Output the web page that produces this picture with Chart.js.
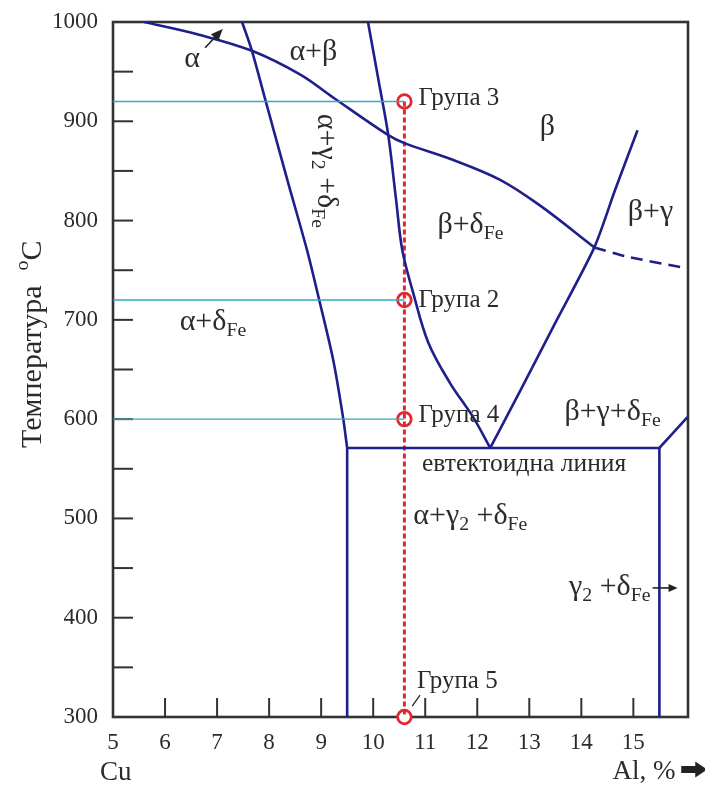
<!DOCTYPE html>
<html><head><meta charset="utf-8">
<script src="https://cdn.jsdelivr.net/npm/chart.js@4.4.1/dist/chart.umd.min.js"></script>
<style>html,body{margin:0;padding:0;background:#fff}#wrap{width:705px;height:785px}</style>
</head><body><div id="wrap"><canvas id="c" width="705" height="785"></canvas></div>
<script>
// ---------- data ----------
const xTicks = [5, 6, 7, 8, 9, 10, 11, 12, 13, 14, 15];
const xTickLabels = ['5', '6', '7', '8', '9', '10', '11', '12', '13', '14', '15'];
const yTicks = [300, 400, 500, 600, 700, 800, 900, 1000];
const yMinorTicks = [350, 450, 550, 650, 750, 850, 950];

// alpha / alpha+beta / beta boundary (solid) and its dashed continuation
const betaUpperAl = [5.6, 6.67, 7.67, 8.6, 9.23, 10.29, 10.6, 11.54, 12.44, 13.21, 14.25];
const betaUpperT  = [1000, 987, 971, 947, 924, 886, 878, 861, 841, 815, 773];
const betaDashAl  = [14.25, 14.85, 16.02];
const betaDashT   = [773, 764, 752];
// alpha+deltaFe / alpha+gamma2+deltaFe boundary
const alphaLimitAl = [7.48, 7.67, 7.92, 8.35, 8.73, 8.94, 9.23, 9.42, 9.5];
const alphaLimitT  = [1000, 971, 923, 841, 770, 725, 660, 602, 571];
// beta+deltaFe lower boundary (to eutectoid point)
const betaLeftAl = [9.9, 10.1, 10.29, 10.44, 10.56, 10.77, 11.06, 11.48, 11.92, 12.25];
const betaLeftT  = [1000, 942, 886, 821, 770, 727, 677, 636, 602, 571];
// beta / beta+gamma boundary
const betaRightAl = [12.25, 12.83, 13.46, 14.25, 14.65, 15.08];
const betaRightT  = [571, 629, 693, 773, 831, 891];
// eutectoid line and verticals
const eutectoidAl = [9.5, 15.5, 16.04];
const eutectoidT  = [571, 571, 602];
const leftVertAl = [9.5, 9.5];
const leftVertT  = [571, 300];
const rightVertAl = [15.5, 15.5];
const rightVertT  = [571, 300];
// sample groups
const groupAl = 10.6;
const groupNames = ['Група 3', 'Група 2', 'Група 4', 'Група 5'];
const groupT = [920, 720, 600, 300];

// ---------- helpers ----------
const pts = (xs, ys) => xs.map((x, i) => ({x: x, y: ys[i]}));
const NAVY = '#1f1f8c', RED = '#e3262f', CYAN = '#2ea9c8', AXIS = '#333333';
const FAM = '"Liberation Serif", "Times New Roman", serif';

function navy(xs, ys, tension, dash) {
  return {data: pts(xs, ys), showLine: true, pointRadius: 0, borderColor: NAVY,
          borderWidth: 2.6, tension: tension, borderDash: dash || [], fill: false};
}

const datasets = [];
// cyan temperature guides
groupT.forEach(t => { if (t > 300) datasets.push({data: [{x: 5, y: t}, {x: groupAl, y: t}], showLine: true,
  pointRadius: 0, borderColor: CYAN, borderWidth: 1.4}); });
datasets.push(navy(betaUpperAl, betaUpperT, 0.35));
datasets.push(navy(betaDashAl, betaDashT, 0.2, [12, 7]));
datasets.push(navy(alphaLimitAl, alphaLimitT, 0.3));
datasets.push(navy(betaLeftAl, betaLeftT, 0.35));
datasets.push(navy(betaRightAl, betaRightT, 0.25));
datasets.push(navy(eutectoidAl, eutectoidT, 0));
datasets.push(navy(leftVertAl, leftVertT, 0));
datasets.push(navy(rightVertAl, rightVertT, 0));
// red dashed composition line
datasets.push({data: [{x: groupAl, y: groupT[0]}, {x: groupAl, y: 300}], showLine: true, pointRadius: 0,
  borderColor: RED, borderWidth: 3, borderDash: [5, 3], clip: false});
// group points
datasets.push({data: groupT.map(t => ({x: groupAl, y: t})), showLine: false, pointRadius: 6.8,
  pointBorderWidth: 2.8, pointBorderColor: RED, pointBackgroundColor: '#ffffff', clip: false});

// ---------- rich text ----------
function parseRich(s) {
  const out = []; const re = /([_^])\{([^}]*)\}/g; let last = 0, m;
  while ((m = re.exec(s))) {
    if (m.index > last) out.push({t: s.slice(last, m.index), k: 0});
    out.push({t: m[2], k: m[1] === '_' ? 1 : 2}); last = re.lastIndex;
  }
  if (last < s.length) out.push({t: s.slice(last), k: 0});
  return out;
}
function drawRich(ctx, s, x, y, size, align, angle) {
  const segs = parseRich(s); let w = 0;
  segs.forEach(g => { g.fs = g.k ? size * 0.66 : size; ctx.font = g.fs + 'px ' + FAM; g.w = ctx.measureText(g.t).width; w += g.w; });
  ctx.save(); ctx.translate(x, y); if (angle) ctx.rotate(angle);
  let cx = align === 'center' ? -w / 2 : (align === 'right' ? -w : 0);
  ctx.textBaseline = 'alphabetic'; ctx.textAlign = 'left';
  segs.forEach(g => { ctx.font = g.fs + 'px ' + FAM; const dy = g.k === 1 ? size * 0.2 : (g.k === 2 ? -size * 0.42 : 0);
    ctx.fillText(g.t, cx, dy); cx += g.w; });
  ctx.restore();
}
function arrow(ctx, x1, y1, x2, y2, head, width) {
  const a = Math.atan2(y2 - y1, x2 - x1);
  ctx.beginPath(); ctx.moveTo(x1, y1); ctx.lineTo(x2 - Math.cos(a) * head * 0.8, y2 - Math.sin(a) * head * 0.8); ctx.stroke();
  ctx.beginPath(); ctx.moveTo(x2, y2);
  ctx.lineTo(x2 - head * Math.cos(a) + width / 2 * Math.sin(a), y2 - head * Math.sin(a) - width / 2 * Math.cos(a));
  ctx.lineTo(x2 - head * Math.cos(a) - width / 2 * Math.sin(a), y2 - head * Math.sin(a) + width / 2 * Math.cos(a));
  ctx.closePath(); ctx.fill();
}

// labels: [text, Al, T, size, align, angle]
const regionLabels = [
  ['α', 6.52, 955, 30, 'center', 0],
  ['α+β', 8.85, 962, 30, 'center', 0],
  ['α+γ_{2} +δ_{Fe}', 8.94, 850, 30, 'center', Math.PI / 2],
  ['β', 13.35, 886, 30, 'center', 0],
  ['β+δ_{Fe}', 11.87, 787, 30, 'center', 0],
  ['β+γ', 15.33, 801, 30, 'center', 0],
  ['α+δ_{Fe}', 6.92, 690, 30, 'center', 0],
  ['β+γ+δ_{Fe}', 14.6, 599, 30, 'center', 0],
  ['евтектоидна линия', 12.9, 548, 25.5, 'center', 0],
  ['α+γ_{2} +δ_{Fe}', 10.77, 494, 30, 'left', 0],
  ['γ_{2} +δ_{Fe}', 15.33, 423, 30, 'right', 0],
  ['Група 3', 10.87, 916, 25, 'left', 0],
  ['Група 2', 10.87, 713, 25, 'left', 0],
  ['Група 4', 10.87, 597, 25, 'left', 0],
  ['Група 5', 10.84, 329, 25, 'left', 0],
  ['Cu', 4.75, 237, 27, 'left', 0],
  ['Al, %', 14.6, 238, 27, 'left', 0],
  ['Температура  ^{o}C', 3.615, 571, 30, 'left', -Math.PI / 2]
];

const framePlugin = {
  id: 'frame',
  beforeDatasetsDraw(chart) {
    const ctx = chart.ctx, a = chart.chartArea, xs = chart.scales.x, ys = chart.scales.y;
    ctx.save(); ctx.strokeStyle = AXIS; ctx.lineWidth = 2.6;
    ctx.strokeRect(a.left, a.top, a.right - a.left, a.bottom - a.top);
    ctx.lineWidth = 2;
    yTicks.concat(yMinorTicks).forEach(v => { if (v > 300 && v < 1000) { const p = ys.getPixelForValue(v);
      ctx.beginPath(); ctx.moveTo(a.left, p); ctx.lineTo(a.left + 20, p); ctx.stroke(); } });
    xTicks.forEach(v => { if (v > 5) { const p = xs.getPixelForValue(v);
      ctx.beginPath(); ctx.moveTo(p, a.bottom); ctx.lineTo(p, a.bottom - 19); ctx.stroke(); } });
    ctx.restore();
  }
};
const textPlugin = {
  id: 'texts',
  afterDraw(chart) {
    const ctx = chart.ctx, xs = chart.scales.x, ys = chart.scales.y;
    const X = v => xs.getPixelForValue(v), Y = v => ys.getPixelForValue(v);
    ctx.save(); ctx.fillStyle = '#2b2b2b';
    regionLabels.forEach(l => drawRich(ctx, l[0], X(l[1]), Y(l[2]), l[3], l[4], l[5]));
    ctx.strokeStyle = '#222'; ctx.fillStyle = '#222'; ctx.lineWidth = 1.6;
    arrow(ctx, X(6.77), Y(974), X(7.11), Y(993), 12, 10);           // alpha arrow
    arrow(ctx, X(15.37), Y(430), X(15.85), Y(430), 9, 8);           // gamma2+deltaFe arrow
    ctx.lineWidth = 1.3;
    ctx.beginPath(); ctx.moveTo(X(10.75), Y(311)); ctx.lineTo(X(10.9), Y(322)); ctx.stroke(); // group 5 leader
    // thick block arrow next to Al, %
    const ax1 = X(15.92), ax2 = X(16.42), ay = Y(247);
    ctx.beginPath(); ctx.moveTo(ax1, ay - 3.5); ctx.lineTo(ax2 - 12, ay - 3.5); ctx.lineTo(ax2 - 12, ay - 8);
    ctx.lineTo(ax2, ay); ctx.lineTo(ax2 - 12, ay + 8); ctx.lineTo(ax2 - 12, ay + 3.5); ctx.lineTo(ax1, ay + 3.5);
    ctx.closePath(); ctx.fill();
    ctx.restore();
  }
};

new Chart(document.getElementById('c'), {
  type: 'scatter',
  data: {datasets: datasets},
  options: {
    responsive: false, animation: false, events: [],
    layout: {padding: {top: 22, right: 17, left: 0, bottom: 0}},
    plugins: {legend: {display: false}, tooltip: {enabled: false}},
    scales: {
      x: {type: 'linear', min: 5, max: 16.05,
        afterBuildTicks: s => { s.ticks = xTicks.map(v => ({value: v})); },
        afterFit: s => { s.height = 68; s.paddingLeft = 0; s.paddingRight = 0; },
        grid: {display: false, drawTicks: false}, border: {display: false},
        ticks: {font: {family: FAM, size: 23}, color: '#2b2b2b', padding: 12, maxRotation: 0, autoSkip: false,
          callback: (v) => { const i = xTicks.indexOf(v); return i >= 0 ? xTickLabels[i] : ''; }}},
      y: {type: 'linear', min: 300, max: 1000,
        afterBuildTicks: s => { s.ticks = yTicks.map(v => ({value: v})); },
        afterFit: s => { s.width = 113; s.paddingTop = 0; s.paddingBottom = 0; },
        grid: {display: false, drawTicks: false}, border: {display: false},
        ticks: {font: {family: FAM, size: 23}, color: '#2b2b2b', padding: 15, autoSkip: false,
          callback: (v) => String(v)}}
    }
  },
  plugins: [framePlugin, textPlugin]
});
</script></body></html>
